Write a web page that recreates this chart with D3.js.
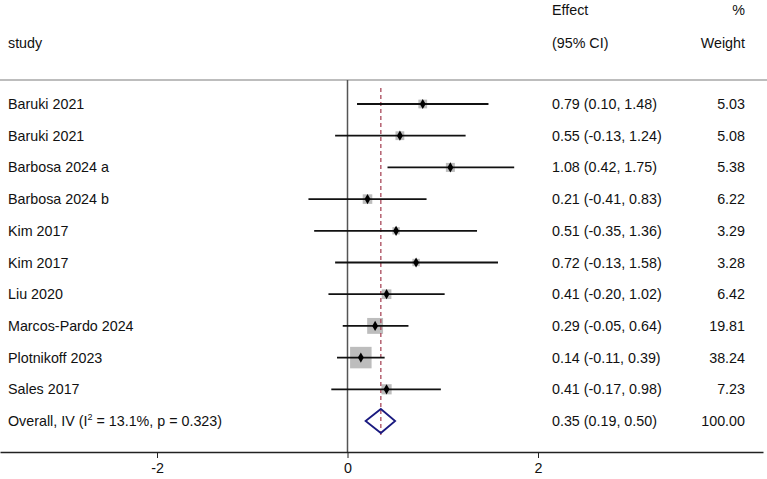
<!DOCTYPE html>
<html lang="en">
<head>
<meta charset="utf-8"/>
<script src="https://d3js.org/d3.v7.min.js"></script>
<style>
  body { margin: 0; background: #fff; }
  text { font-family: "Liberation Sans", Arial, sans-serif; font-size: 14.3px; fill: #111; }
</style>
</head>
<body>
<svg id="forest"></svg>
<script>
  const studies = ["Baruki 2021", "Baruki 2021", "Barbosa 2024 a", "Barbosa 2024 b", "Kim 2017",
                   "Kim 2017", "Liu 2020", "Marcos-Pardo 2024", "Plotnikoff 2023", "Sales 2017"];
  const effects = [0.79, 0.55, 1.08, 0.21, 0.51, 0.72, 0.41, 0.29, 0.14, 0.41];
  const lower   = [0.10, -0.13, 0.42, -0.41, -0.35, -0.13, -0.20, -0.05, -0.11, -0.17];
  const upper   = [1.48, 1.24, 1.75, 0.83, 1.36, 1.58, 1.02, 0.64, 0.39, 0.98];
  const weights = [5.03, 5.08, 5.38, 6.22, 3.29, 3.28, 6.42, 19.81, 38.24, 7.23];
  const overall = {label: "Overall, IV (I", sup: "2", rest: " = 13.1%, p = 0.323)",
                   est: 0.35, lo: 0.19, hi: 0.50, weight: "100.00"};
  const xTicks = [-2, 0, 2];

  const width = 767, height = 479;
  const svg = d3.select("#forest").attr("width", width).attr("height", height);

  // x scale: fit -2..2 to the pixel positions, then stretch to the full axis line
  const x0 = d3.scaleLinear().domain([-2, 2]).range([157, 538]);
  const x = d3.scaleLinear().domain([x0.invert(0), x0.invert(763)]).range([0, 763]);

  const y = d3.scalePoint().domain(d3.range(studies.length + 1)).range([104, 421]);

  // plain hyphen for negatives, like the original
  const fmt = v => v.toFixed(2);
  const rows = studies.map((s, i) => ({
    study: s, est: effects[i], lo: lower[i], hi: upper[i], w: weights[i], i: i
  }));

  // header
  svg.append("text").attr("x", 8).attr("y", 48).text("study");
  svg.append("text").attr("x", 552).attr("y", 15).text("Effect");
  svg.append("text").attr("x", 552).attr("y", 48).text("(95% CI)");
  svg.append("text").attr("x", 745).attr("y", 15).attr("text-anchor", "end").text("%");
  svg.append("text").attr("x", 745).attr("y", 48).attr("text-anchor", "end").text("Weight");

  svg.append("line")
    .attr("x1", 0).attr("x2", width).attr("y1", 80).attr("y2", 80)
    .style("stroke", "#bdbdbd").style("stroke-width", 2);

  // no-effect line
  svg.append("line")
    .attr("x1", x(0)).attr("x2", x(0)).attr("y1", 80).attr("y2", 452)
    .style("stroke", "#555").style("stroke-width", 1.5);

  // boxes, area roughly proportional to weight
  const maxW = d3.max(weights);
  const side = d => 20 * Math.sqrt(d.w / maxW) + 1.5;

  svg.selectAll(".box").data(rows).enter().append("rect")
    .attr("class", "box")
    .attr("x", d => x(d.est) - side(d) / 2)
    .attr("y", d => y(d.i) - side(d) / 2)
    .attr("width", side).attr("height", side)
    .style("fill", "#bdbdbd");

  // overall effect dashed line
  svg.append("line")
    .attr("x1", x(overall.est)).attr("x2", x(overall.est))
    .attr("y1", 88).attr("y2", 438)
    .style("stroke", "#a8485a").style("stroke-width", 1.3)
    .style("stroke-dasharray", "4,3");

  svg.selectAll(".ci").data(rows).enter().append("line")
    .attr("class", "ci")
    .attr("x1", d => x(d.lo)).attr("x2", d => x(d.hi))
    .attr("y1", d => y(d.i)).attr("y2", d => y(d.i))
    .style("stroke", "#111").style("stroke-width", 1.8);

  svg.selectAll(".pt").data(rows).enter().append("path")
    .attr("class", "pt")
    .attr("transform", d => "translate(" + x(d.est) + "," + y(d.i) + ")")
    .attr("d", d3.symbol().type(d3.symbolDiamond).size(30))
    .style("fill", "#000");

  // study labels and numbers
  svg.selectAll(".lab").data(rows).enter().append("text")
    .attr("x", 8).attr("y", d => y(d.i) + 5).text(d => d.study);
  svg.selectAll(".eff").data(rows).enter().append("text")
    .attr("x", 552).attr("y", d => y(d.i) + 5)
    .text(d => fmt(d.est) + " (" + fmt(d.lo) + ", " + fmt(d.hi) + ")");
  svg.selectAll(".wt").data(rows).enter().append("text")
    .attr("x", 745).attr("y", d => y(d.i) + 5).attr("text-anchor", "end")
    .text(d => fmt(d.w));

  // overall row
  const yo = y(studies.length);
  svg.append("path")
    .attr("d", d3.line()([[x(overall.lo), yo], [x(overall.est), yo - 12],
                          [x(overall.hi), yo], [x(overall.est), yo + 12]]) + "Z")
    .style("fill", "none").style("stroke", "#1a1a80").style("stroke-width", 1.8);

  const ot = svg.append("text").attr("x", 8).attr("y", yo + 5);
  ot.append("tspan").text(overall.label);
  ot.append("tspan").attr("dy", -6).style("font-size", "9px").text(overall.sup);
  ot.append("tspan").attr("dy", 6).text(overall.rest);
  svg.append("text").attr("x", 552).attr("y", yo + 5)
    .text(fmt(overall.est) + " (" + fmt(overall.lo) + ", " + fmt(overall.hi) + ")");
  svg.append("text").attr("x", 745).attr("y", yo + 5).attr("text-anchor", "end")
    .text(overall.weight);

  // x axis
  const axis = svg.append("g")
    .attr("transform", "translate(0,452)")
    .call(d3.axisBottom(x).tickValues(xTicks).tickSize(6).tickSizeOuter(0).tickFormat(d => String(d)));
  axis.select(".domain").style("stroke", "#222").style("stroke-width", 1.5);
  axis.selectAll(".tick line").style("stroke", "#222");
  axis.selectAll(".tick text")
    .attr("y", 11)
    .style("font-family", "'Liberation Sans', Arial, sans-serif")
    .style("font-size", "14.3px").style("fill", "#111");
</script>
</body>
</html>
